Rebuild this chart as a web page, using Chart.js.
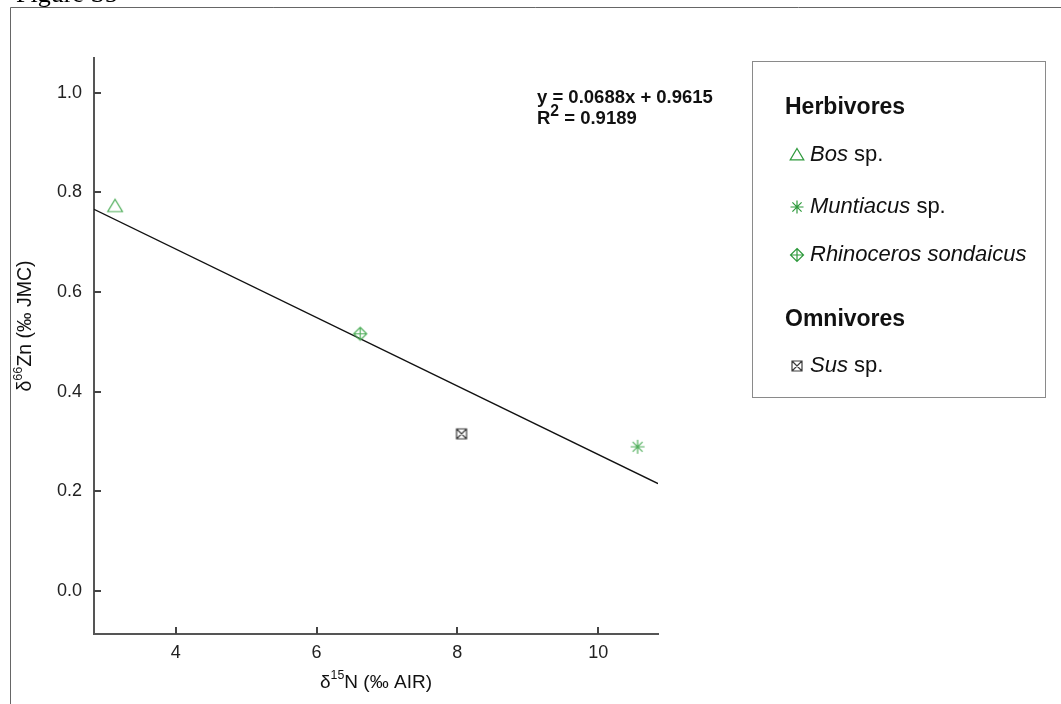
<!DOCTYPE html>
<html>
<head>
<meta charset="utf-8">
<script src="https://cdn.jsdelivr.net/npm/chart.js@4/dist/chart.umd.min.js"></script>
<style>
  html, body { margin: 0; padding: 0; background: #fff; }
  #wrap { width: 1061px; height: 704px; position: relative; }
</style>
</head>
<body>
<div id="wrap"><canvas id="c" width="1061" height="704"></canvas></div>
<script>
// Taxa and their isotope values (δ15N, δ66Zn)
const taxa = ['Bos sp.', 'Muntiacus sp.', 'Rhinoceros sondaicus', 'Sus sp.'];
const d15N = [3.14, 10.56, 6.62, 8.06];
const d66Zn = [0.772, 0.289, 0.516, 0.315];

// Fitted regression line and its annotation
const fitSlope = -0.0688;
const fitIntercept = 0.9615;
const fitX = [2.84, 10.85];
const equationText = 'y = 0.0688x + 0.9615';
const r2Text = '0.9189';

// Axis ranges and ticks
const xRange = [2.84, 10.85];
const yRange = [-0.087, 1.07];
const xTicks = [4, 6, 8, 10];
const yTicks = [0.0, 0.2, 0.4, 0.6, 0.8, 1.0];

const GREEN = '#4fae5a';
const GREEN_DARK = '#2f9a3d';
const GREY = '#3c3c3c';
const FONT = '"Liberation Sans", Arial, sans-serif';

// Marker glyphs
function drawMarker(ctx, kind, x, y, r, color) {
  ctx.save();
  ctx.strokeStyle = color;
  ctx.lineWidth = 1.2;
  ctx.beginPath();
  if (kind === 'triangle') {
    ctx.moveTo(x, y - r);
    ctx.lineTo(x + r * 1.05, y + r * 0.75);
    ctx.lineTo(x - r * 1.05, y + r * 0.75);
    ctx.closePath();
  } else if (kind === 'asterisk') {
    for (let i = 0; i < 4; i++) {
      const a = i * Math.PI / 4;
      ctx.moveTo(x - r * Math.cos(a), y - r * Math.sin(a));
      ctx.lineTo(x + r * Math.cos(a), y + r * Math.sin(a));
    }
  } else if (kind === 'diamondCross') {
    ctx.moveTo(x, y - r);
    ctx.lineTo(x + r, y);
    ctx.lineTo(x, y + r);
    ctx.lineTo(x - r, y);
    ctx.closePath();
    ctx.moveTo(x, y - r); ctx.lineTo(x, y + r);
    ctx.moveTo(x - r, y); ctx.lineTo(x + r, y);
  } else if (kind === 'squareX') {
    ctx.rect(x - r, y - r, 2 * r, 2 * r);
    ctx.moveTo(x - r, y - r); ctx.lineTo(x + r, y + r);
    ctx.moveTo(x + r, y - r); ctx.lineTo(x - r, y + r);
  }
  ctx.stroke();
  ctx.restore();
}

function markerImage(kind, r, color) {
  const size = Math.ceil(r * 2 + 4);
  const cv = document.createElement('canvas');
  cv.width = size; cv.height = size;
  drawMarker(cv.getContext('2d'), kind, size / 2, size / 2, r, color);
  return cv;
}

const kinds = ['triangle', 'asterisk', 'diamondCross', 'squareX'];
const pointColors = [GREEN, GREEN, GREEN, GREY];
const pointSizes = [7, 7, 6.5, 5];

const datasets = taxa.map((name, i) => ({
  type: 'scatter',
  label: name,
  data: [{ x: d15N[i], y: d66Zn[i] }],
  pointStyle: markerImage(kinds[i], pointSizes[i], pointColors[i]),
  pointRadius: 7,
  order: 1
}));

datasets.push({
  type: 'line',
  label: 'fit',
  data: fitX.map(x => ({ x: x, y: fitSlope * x + fitIntercept })),
  borderColor: '#111',
  borderWidth: 1.4,
  pointRadius: 0,
  fill: false,
  order: 2
});

// Draw a sequence of text runs; superscript runs are raised and smaller
function runFont(run, size, weight) {
  const s = run.sup ? size * (run.scale || 0.65) : size;
  return (run.italic ? 'italic ' : '') + (weight || 'normal') + ' ' + s + 'px ' + FONT;
}
function drawRuns(ctx, runs, x, y, size, weight) {
  let cx = x;
  runs.forEach(run => {
    ctx.font = runFont(run, size, weight);
    ctx.fillText(run.t, cx, run.sup ? y - size * 0.4 : y);
    cx += ctx.measureText(run.t).width;
  });
  return cx - x;
}
function measureRuns(ctx, runs, size, weight) {
  let w = 0;
  runs.forEach(run => {
    ctx.font = runFont(run, size, weight);
    w += ctx.measureText(run.t).width;
  });
  return w;
}

const decorations = {
  id: 'decorations',
  beforeDraw(chart) {
    const ctx = chart.ctx;
    ctx.save();
    // figure frame
    ctx.strokeStyle = '#666';
    ctx.lineWidth = 1;
    ctx.beginPath();
    ctx.moveTo(10.5, 704);
    ctx.lineTo(10.5, 7.5);
    ctx.lineTo(1061, 7.5);
    ctx.stroke();
    // figure caption, clipped by the page edge
    ctx.fillStyle = '#000';
    ctx.font = '26px "Liberation Serif", "Times New Roman", serif';
    ctx.textBaseline = 'alphabetic';
    ctx.fillText('Figure S5', 16, 2);
    ctx.restore();
  },
  afterDraw(chart) {
    const ctx = chart.ctx;
    const xs = chart.scales.x, ys = chart.scales.y;
    const area = chart.chartArea;
    ctx.save();
    // inward tick marks
    ctx.strokeStyle = '#444';
    ctx.lineWidth = 2;
    ctx.beginPath();
    yTicks.forEach(v => {
      const py = Math.round(ys.getPixelForValue(v));
      ctx.moveTo(area.left, py); ctx.lineTo(area.left + 7, py);
    });
    xTicks.forEach(v => {
      const px = Math.round(xs.getPixelForValue(v));
      ctx.moveTo(px, area.bottom); ctx.lineTo(px, area.bottom - 7);
    });
    ctx.stroke();

    ctx.fillStyle = '#111';
    ctx.textBaseline = 'middle';

    // x axis title
    const xt = [{ t: 'δ' }, { t: '15', sup: true }, { t: 'N (‰ AIR)' }];
    const xw = measureRuns(ctx, xt, 19);
    drawRuns(ctx, xt, (area.left + area.right) / 2 - xw / 2, 683, 19);

    // y axis title
    const yt = [{ t: 'δ' }, { t: '66', sup: true }, { t: 'Zn (‰ JMC)' }];
    const yw = measureRuns(ctx, yt, 19.5);
    ctx.save();
    ctx.translate(26, 326);
    ctx.rotate(-Math.PI / 2);
    drawRuns(ctx, yt, -yw / 2, 0, 19.5);
    ctx.restore();

    // regression annotation
    drawRuns(ctx, [{ t: equationText }], 537, 98, 18.5, 'bold');
    drawRuns(ctx, [{ t: 'R' }, { t: '2', sup: true, scale: 0.85 }, { t: ' = ' + r2Text }], 537, 119, 18.5, 'bold');

    // legend box
    ctx.strokeStyle = '#8a8a8a';
    ctx.lineWidth = 1;
    ctx.strokeRect(752.5, 61.5, 293, 336);
    const lx = 785;
    drawRuns(ctx, [{ t: 'Herbivores' }], lx, 108, 23, 'bold');
    drawRuns(ctx, [{ t: 'Omnivores' }], lx, 320, 23, 'bold');
    const rows = [
      { i: 0, y: 155, runs: [{ t: 'Bos', italic: true }, { t: ' sp.' }] },
      { i: 1, y: 207, runs: [{ t: 'Muntiacus', italic: true }, { t: ' sp.' }] },
      { i: 2, y: 255, runs: [{ t: 'Rhinoceros sondaicus', italic: true }] },
      { i: 3, y: 366, runs: [{ t: 'Sus', italic: true }, { t: ' sp.' }] }
    ];
    const legendColors = [GREEN_DARK, GREEN_DARK, GREEN_DARK, GREY];
    const legendSizes = [6.5, 6.5, 6.5, 5];
    rows.forEach(r => {
      drawMarker(ctx, kinds[r.i], 797, r.y, legendSizes[r.i], legendColors[r.i]);
      ctx.fillStyle = '#111';
      drawRuns(ctx, r.runs, 810, r.y, 22);
    });
    ctx.restore();
  }
};

new Chart(document.getElementById('c'), {
  data: { datasets: datasets },
  options: {
    responsive: false,
    animation: false,
    layout: { padding: { left: 0, right: 403, top: 58, bottom: 0 } },
    plugins: { legend: { display: false }, tooltip: { enabled: false } },
    scales: {
      x: {
        type: 'linear',
        min: xRange[0], max: xRange[1],
        afterFit: s => { s.height = 70; },
        afterBuildTicks: s => { s.ticks = xTicks.map(v => ({ value: v })); },
        grid: { display: true, drawOnChartArea: false, drawTicks: false },
        border: { display: true, color: '#555', width: 2 },
        ticks: { padding: 8, color: '#222', font: { family: FONT, size: 18 } }
      },
      y: {
        type: 'linear',
        min: yRange[0], max: yRange[1],
        afterFit: s => { s.width = 94; },
        afterBuildTicks: s => { s.ticks = yTicks.map(v => ({ value: v })); },
        grid: { display: true, drawOnChartArea: false, drawTicks: false },
        border: { display: true, color: '#555', width: 2 },
        ticks: {
          padding: 12, color: '#222', font: { family: FONT, size: 18 },
          callback: v => v.toFixed(1)
        }
      }
    }
  },
  plugins: [decorations]
});
</script>
</body>
</html>
